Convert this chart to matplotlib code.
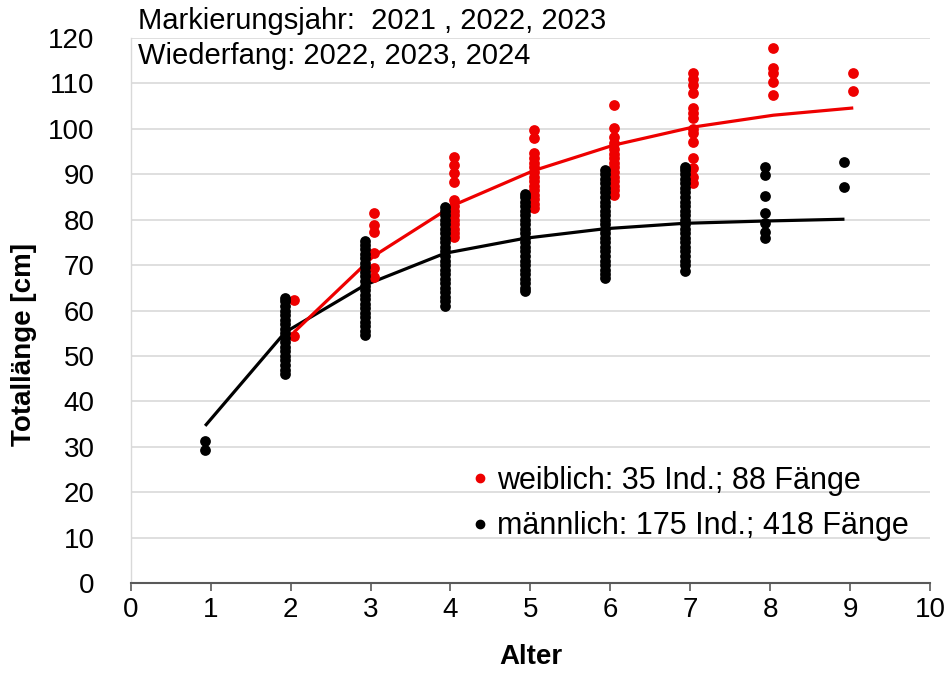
import matplotlib
matplotlib.use("Agg")
import matplotlib.pyplot as plt
from matplotlib.lines import Line2D

plt.rcParams["font.family"] = ["Liberation Sans", "DejaVu Sans"]

# Catch data: total length (cm) by age (years)
ages = [1, 2, 3, 4, 5, 6, 7, 8, 9]

male_lengths = [
    [29.3, 31.3],
    [46, 47, 48, 49, 50, 51, 52, 53, 54, 55, 56, 57, 58, 59, 60, 61, 62, 62.7],
    [54.5, 55.5, 56.5, 57.5, 58.5, 59.5, 60.5, 61.5, 62.5, 63.5, 64.5, 65.5, 66.5,
     67.5, 68.5, 69.5, 70.5, 71.5, 72.5, 73.5, 74.5, 75.3],
    [61, 62, 63, 64, 65, 66, 67, 68, 69, 70, 71, 72, 73, 74, 75, 76, 77, 78, 79,
     80, 81, 82, 82.8],
    [64.3, 65, 66, 67, 68, 69, 70, 71, 72, 73, 74, 75, 76, 77, 78, 79, 80, 81, 82,
     83, 84, 85, 85.6],
    [67.2, 68, 69, 70, 71, 72, 73, 74, 75, 76, 77, 78, 79, 80, 81, 82, 83, 84, 85,
     86, 87, 88, 89, 90, 91],
    [68.7, 70, 71, 72, 73, 74, 75, 76, 77, 78, 79, 80, 81, 82, 83, 84, 85, 86, 87,
     88, 89, 90, 91, 91.6],
    [76, 77.3, 79.3, 81.5, 85.2, 89.8, 91.6],
    [87.2, 92.7],
]

female_lengths = [
    [],
    [54.4, 62.3],
    [67.4, 69.3, 72.6, 77.3, 78.8, 81.5],
    [76.2, 77, 78, 79, 80, 81, 82, 83, 84.3, 88.3, 90.2, 92, 93.8],
    [82.6, 83.5, 84.5, 85.5, 86.5, 87.5, 88.5, 89.5, 90.5, 91.5, 92.5, 93.5, 94.6,
     98, 99.7],
    [85.4, 86.5, 87.5, 88.5, 89.5, 90.5, 91.5, 92.5, 93.5, 94.5, 95.5, 96.9, 98.2,
     100.2, 105.2],
    [88, 89.4, 91.4, 93.6, 97, 99, 100, 102.4, 103.5, 104.6, 108, 109.6, 111, 112.3],
    [107.4, 110.3, 112.3, 113.4, 117.8],
    [108.3, 112.3],
]

# Growth curves (mean length at age)
male_curve = [34.6, 55.2, 65.6, 72.6, 75.9, 78.0, 79.2, 79.7, 80.1]
female_curve_ages = [2, 3, 4, 5, 6, 7, 8, 9]
female_curve = [55.2, 72.0, 83.2, 90.8, 96.4, 100.4, 103.0, 104.6]

male_label = "männlich: 175 Ind.; 418 Fänge"
female_label = "weiblich: 35 Ind.; 88 Fänge"

RED = "#ee0000"
BLACK = "#000000"
male_shift = -0.07
female_shift = 0.04

fig = plt.figure(figsize=(9.48, 6.75), dpi=100)
ax = fig.add_axes([0.138, 0.1363, 0.843, 0.8074])

ax.plot([a + male_shift for a in ages], male_curve, color=BLACK, lw=2.3,
        zorder=3, solid_capstyle="butt")
ax.plot([a + female_shift for a in female_curve_ages], female_curve, color=RED,
        lw=2.3, zorder=3, solid_capstyle="butt")

for a, vals in zip(ages, female_lengths):
    if vals:
        ax.scatter([a + female_shift] * len(vals), vals, s=60, color=RED,
                   linewidths=0, zorder=4)
for a, vals in zip(ages, male_lengths):
    ax.scatter([a + male_shift] * len(vals), vals, s=60, color=BLACK,
               linewidths=0, zorder=5)

ax.set_xlim(0, 10)
ax.set_ylim(0, 120)
ax.set_xticks(range(0, 11))
ax.set_yticks(range(0, 121, 10))
ax.yaxis.grid(True, color="#d9d9d9", lw=1.2)
ax.set_axisbelow(True)

for side in ("top", "right"):
    ax.spines[side].set_visible(False)
ax.spines["left"].set_color("#d9d9d9")
ax.spines["left"].set_linewidth(1.0)
ax.spines["bottom"].set_color("#595959")
ax.spines["bottom"].set_linewidth(1.5)

ax.tick_params(axis="x", direction="out", length=6, width=1.2, color="#595959",
               labelsize=20, pad=4)
ax.tick_params(axis="y", length=0, labelsize=20, pad=26)

ax.set_xlabel("Alter", fontsize=20, fontweight="bold", labelpad=15)
ax.set_ylabel("Totallänge [cm]", fontsize=20, fontweight="bold")
ax.yaxis.set_label_coords(-0.1175, 0.437)

fig.text(138 / 948, 1 - 29 / 675, "Markierungsjahr:  2021 , 2022, 2023",
         fontsize=21, va="baseline", ha="left")
fig.text(138 / 948, 1 - 64 / 675, "Wiederfang: 2022, 2023, 2024",
         fontsize=21, va="baseline", ha="left")

handles = [
    Line2D([], [], marker="o", ls="none", color=RED, markersize=6),
    Line2D([], [], marker="o", ls="none", color=BLACK, markersize=6),
]
ax.legend(handles, [female_label, male_label], loc="center left",
          bbox_to_anchor=(0.4268, 0.1455), frameon=False, fontsize=22,
          handletextpad=0.27, handlelength=0.55, labelspacing=0.5,
          borderpad=0, borderaxespad=0)

fig.savefig("out.png", dpi=100)
